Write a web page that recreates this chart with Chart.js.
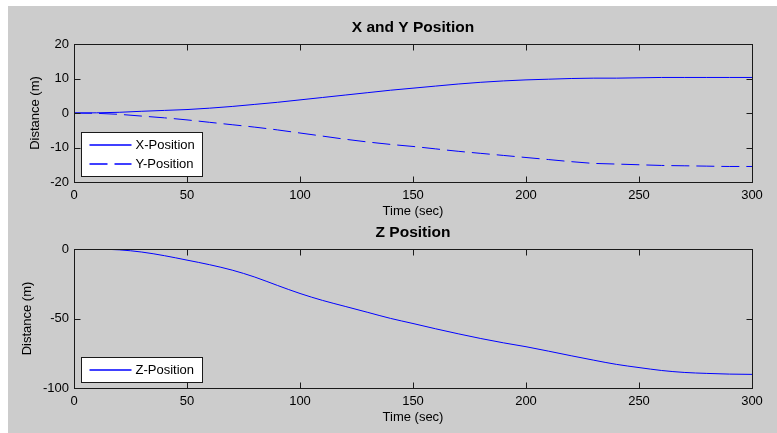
<!DOCTYPE html>
<html>
<head>
<meta charset="utf-8">
<title>X, Y and Z Position</title>
<script src="https://cdn.jsdelivr.net/npm/chart.js@4.4.1/dist/chart.umd.min.js"></script>
<style>
  html, body { margin: 0; padding: 0; background: #fff; }
  #fig { position: relative; width: 777px; height: 433px; overflow: hidden; }
  #bg { position: absolute; left: 8px; top: 6px; right: 0; bottom: 0; background: #cccccc; }
  #fig canvas { position: absolute; left: 0; top: 0; }
</style>
</head>
<body>
<div id="fig">
  <div id="bg"></div>
  <canvas id="xyChart" width="777" height="433"></canvas>
  <canvas id="zChart" width="777" height="433"></canvas>
</div>
<script>
// ============================================================
// DATA (time in sec, distance in m)
// ============================================================
const times = [0, 10, 20, 30, 40, 50, 60, 70, 80, 90, 100, 110, 120, 130, 140, 150,
               160, 170, 180, 190, 200, 210, 220, 230, 240, 250, 260, 270, 280, 290, 300];
const xPos = [0, 0.05, 0.2, 0.5, 0.75, 1.0, 1.4, 1.9, 2.5, 3.1, 3.8, 4.5, 5.2, 5.9, 6.6, 7.2,
              7.8, 8.4, 8.9, 9.3, 9.6, 9.8, 10.0, 10.1, 10.1, 10.2, 10.3, 10.3, 10.3, 10.3, 10.3];
const yPos = [0, -0.1, -0.4, -0.9, -1.4, -2.0, -2.7, -3.4, -4.1, -4.9, -5.8, -6.7, -7.6, -8.4, -9.1, -9.7,
              -10.4, -11.1, -11.7, -12.3, -12.9, -13.5, -14.1, -14.6, -14.8, -15.0, -15.2, -15.3, -15.4, -15.5, -15.5];
const zPos = [0, -0.1, -0.6, -2.2, -4.8, -8.0, -11.3, -15.2, -20.2, -26.2, -32.0, -37.0, -41.3, -45.6, -49.9, -53.6,
              -57.4, -61.0, -64.4, -67.5, -70.3, -73.5, -76.8, -80.0, -83.0, -85.3, -87.4, -88.8, -89.5, -90.0, -90.2];

const timeRange = [0, 300];
const timeStep = 50;
const xyRange = [-20, 20];
const xyStep = 10;
const zRange = [-100, 0];
const zStep = 50;

const FONT = '"Liberation Sans", Arial, Helvetica, sans-serif';
const BLUE = 'rgb(0, 0, 255)';

function pts(ys) {
  return times.map((t, i) => ({ x: t, y: ys[i] }));
}

// ============================================================
// PLUGINS — MATLAB-like box with inward ticks, boxed legend
// ============================================================
const axesBox = {
  id: 'axesBox',
  afterDatasetsDraw(chart) {
    const { ctx, chartArea: a, scales: { x, y } } = chart;
    const L = Math.round(a.left) + 0.5, R = Math.round(a.right) + 0.5;
    const T = Math.round(a.top) + 0.5, B = Math.round(a.bottom) + 0.5;
    const len = 6;
    ctx.save();
    ctx.strokeStyle = '#1a1a1a';
    ctx.lineWidth = 1;
    ctx.strokeRect(L, T, R - L, B - T);
    ctx.beginPath();
    x.ticks.forEach((t, i) => {
      const px = Math.round(x.getPixelForTick(i)) + 0.5;
      ctx.moveTo(px, B); ctx.lineTo(px, B - len);
      ctx.moveTo(px, T); ctx.lineTo(px, T + len);
    });
    y.ticks.forEach((t, i) => {
      const py = Math.round(y.getPixelForTick(i)) + 0.5;
      ctx.moveTo(L, py); ctx.lineTo(L + len, py);
      ctx.moveTo(R, py); ctx.lineTo(R - len, py);
    });
    ctx.stroke();
    ctx.restore();
  }
};

const boxLegend = {
  id: 'boxLegend',
  afterDatasetsDraw(chart) {
    const { ctx, chartArea: a } = chart;
    const sets = chart.data.datasets;
    ctx.save();
    ctx.font = '13px ' + FONT;
    const textW = Math.max(...sets.map(d => ctx.measureText(d.label).width));
    const w = Math.round(54 + textW + 8);
    const h = sets.length * 19 + 6;
    const left = Math.round(a.left) + 7.5;
    const top = Math.round(a.bottom) - 6 - h + 0.5;
    ctx.fillStyle = '#fff';
    ctx.fillRect(left, top, w, h);
    ctx.strokeStyle = '#1a1a1a';
    ctx.lineWidth = 1;
    ctx.strokeRect(left, top, w, h);
    sets.forEach((d, i) => {
      const cy = Math.round(top + 12.5 + i * 19);
      // sample line, solid or dashed like its dataset
      ctx.beginPath();
      ctx.strokeStyle = d.borderColor;
      ctx.lineWidth = 1.5;
      ctx.setLineDash(d.borderDash || []);
      ctx.moveTo(left + 8, cy);
      ctx.lineTo(left + 50, cy);
      ctx.stroke();
      ctx.setLineDash([]);
      ctx.fillStyle = '#000';
      ctx.textBaseline = 'middle';
      ctx.fillText(d.label, left + 54, cy + 0.5);
    });
    ctx.restore();
  }
};

// ============================================================
// OPTIONS BUILDER
// ============================================================
function makeOptions(cfg) {
  return {
    responsive: false,
    animation: false,
    events: [],
    layout: { padding: cfg.padding },
    elements: { point: { radius: 0 }, line: { borderWidth: 1, cubicInterpolationMode: 'monotone' } },
    plugins: {
      legend: { display: false },
      tooltip: { enabled: false },
      title: {
        display: true, text: cfg.title, color: '#000', fullSize: false,
        font: { family: FONT, size: 15.5, weight: 'bold' },
        padding: { top: cfg.titleTop, bottom: cfg.titleBottom }
      }
    },
    scales: {
      x: {
        type: 'linear', min: timeRange[0], max: timeRange[1],
        grid: { display: false, drawTicks: false },
        border: { display: false },
        ticks: { stepSize: timeStep, color: '#000', padding: 6, maxRotation: 0, autoSkip: false, font: { family: FONT, size: 13 } },
        title: { display: true, text: 'Time (sec)', color: '#000', font: { family: FONT, size: 13 }, padding: { top: 0, bottom: cfg.xTitlePad } },
        afterFit: s => { s.height = cfg.xHeight; }
      },
      y: {
        min: cfg.yRange[0], max: cfg.yRange[1],
        grid: { display: false, drawTicks: false },
        border: { display: false },
        ticks: { stepSize: cfg.yStep, color: '#000', padding: 5, font: { family: FONT, size: 13 } },
        title: { display: true, text: 'Distance (m)', color: '#000', font: { family: FONT, size: 13 }, padding: { top: cfg.yTitlePad, bottom: 0 } },
        afterFit: s => { s.width = 74; }
      }
    }
  };
}

// ============================================================
// CHARTS
// ============================================================
new Chart(document.getElementById('xyChart'), {
  type: 'line',
  data: {
    datasets: [
      { label: 'X-Position', data: pts(xPos), borderColor: BLUE },
      { label: 'Y-Position', data: pts(yPos), borderColor: BLUE, borderDash: [18, 7] }
    ]
  },
  options: makeOptions({
    title: 'X and Y Position',
    padding: { left: 0, right: 25, top: 0, bottom: 213 },
    titleTop: 18.7, titleBottom: 6.7,
    xHeight: 38, xTitlePad: 1, yRange: xyRange, yStep: xyStep, yTitlePad: 28
  }),
  plugins: [axesBox, boxLegend]
});

new Chart(document.getElementById('zChart'), {
  type: 'line',
  data: {
    datasets: [
      { label: 'Z-Position', data: pts(zPos), borderColor: BLUE }
    ]
  },
  options: makeOptions({
    title: 'Z Position',
    padding: { left: 0, right: 25, top: 0, bottom: 7 },
    titleTop: 223.7, titleBottom: 6.7,
    xHeight: 38, xTitlePad: 1, yRange: zRange, yStep: zStep, yTitlePad: 20
  }),
  plugins: [axesBox, boxLegend]
});
</script>
</body>
</html>
